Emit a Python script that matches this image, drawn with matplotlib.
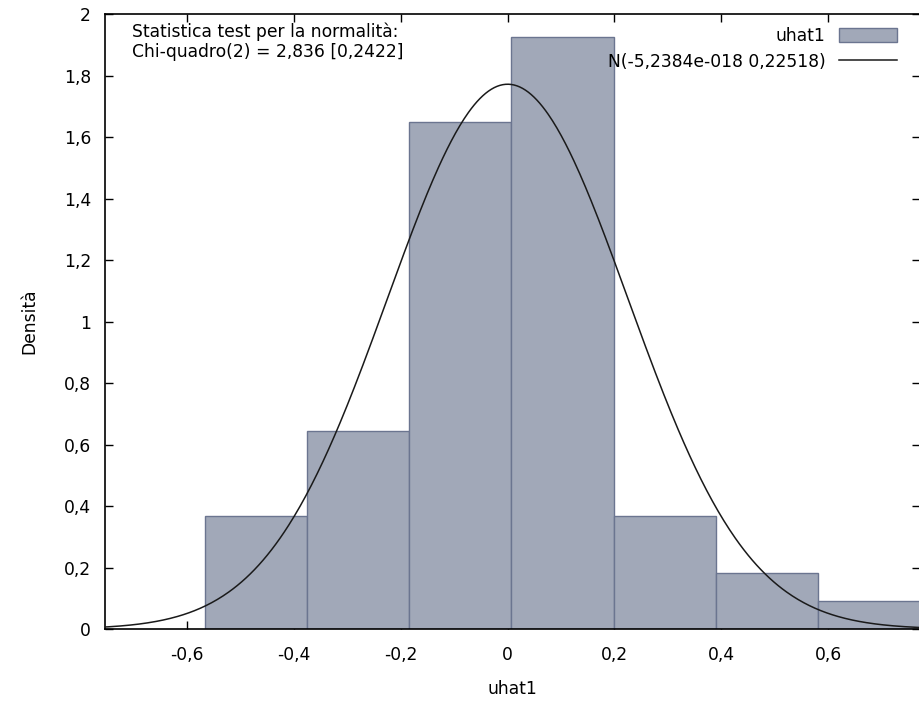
import numpy as np
import matplotlib
matplotlib.use("Agg")
import matplotlib.pyplot as plt
from matplotlib.ticker import FuncFormatter

# histogram of uhat1 (density)
bin_edges = [-0.566, -0.375, -0.184, 0.007, 0.199, 0.390, 0.581, 0.772]
density = [0.367, 0.643, 1.648, 1.924, 0.367, 0.183, 0.091]

# normal curve parameters as printed in the legend
norm_mean = -5.2384e-18
norm_sd = 0.22518

x_ticks = [-0.6, -0.4, -0.2, 0, 0.2, 0.4, 0.6]
y_ticks = [0, 0.2, 0.4, 0.6, 0.8, 1, 1.2, 1.4, 1.6, 1.8, 2]

test_text = "Statistica test per la normalità:\nChi-quadro(2) = 2,836 [0,2422]"
hist_label = "uhat1"
curve_label = "N(-5,2384e-018 0,22518)"


def comma_fmt(v, pos):
    s = "%g" % round(v, 6)
    if s == "-0":
        s = "0"
    return s.replace(".", ",")


plt.rcParams["font.family"] = ["DejaVu Sans"]
plt.rcParams["font.size"] = 12.3

fig = plt.figure(figsize=(9.2, 7.04), dpi=100)
ax = fig.add_axes([0.1141, 0.1065, 0.8859, 0.8736])

lefts = np.array(bin_edges[:-1])
widths = np.diff(bin_edges)
bars = ax.bar(lefts, density, width=widths, align="edge", color="#a1a8b8",
              edgecolor="#6b7590", linewidth=1.0, label=hist_label, zorder=2)

xs = np.linspace(-0.8, 0.8, 600)
pdf = np.exp(-0.5 * ((xs - norm_mean) / norm_sd) ** 2) / (norm_sd * np.sqrt(2 * np.pi))
line, = ax.plot(xs, pdf, color="#1a1a1a", linewidth=1.1, label=curve_label, zorder=3)

ax.set_xlim(-0.754, 0.772)
ax.set_ylim(0, 2)
ax.set_xticks(x_ticks)
ax.set_yticks(y_ticks)
ax.xaxis.set_major_formatter(FuncFormatter(comma_fmt))
ax.yaxis.set_major_formatter(FuncFormatter(comma_fmt))
ax.tick_params(direction="in", length=6, width=1, top=True, right=True)
ax.tick_params(axis="x", pad=12)
ax.tick_params(axis="y", pad=10)
for sp in ax.spines.values():
    sp.set_linewidth(1.2)

ax.set_xlabel("uhat1", labelpad=12)
ax.set_ylabel("Densità", labelpad=18)

ax.text(0.033, 0.986, test_text, transform=ax.transAxes, va="top", ha="left",
        linespacing=1.1, zorder=5)

ax.legend([bars, line], [hist_label, curve_label], loc="upper right",
          bbox_to_anchor=(0.972, 0.979), frameon=False,
          markerfirst=False, borderpad=0, borderaxespad=0, handlelength=3.4,
          handleheight=0.8, handletextpad=0.8, labelspacing=0.45)

fig.savefig("out.png", dpi=100)
